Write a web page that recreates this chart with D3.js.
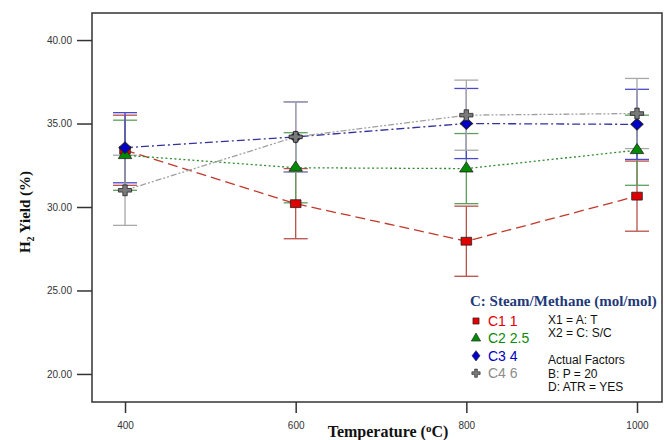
<!DOCTYPE html>
<html>
<head>
<meta charset="utf-8">
<script src="https://cdn.jsdelivr.net/npm/d3@7"></script>
<style>
  body { margin: 0; background: #fff; }
  svg { display: block; }
</style>
</head>
<body>
<div id="chart"></div>
<script>
// temperatures (x) and mean H2 yield per steam/methane level
var temps = [400, 600, 800, 1000];
var xTicks = [400, 600, 800, 1000];
var yTicks = [20, 25, 30, 35, 40];

var c1 = [33.4, 30.2, 27.95, 30.65];
var c2 = [33.1, 32.35, 32.3, 33.4];
var c3 = [33.55, 34.2, 35.0, 34.95];
var c4 = [31.0, 34.2, 35.5, 35.6];
// half width of LSD error bars
var lsd = [2.1, 2.1, 2.1, 2.1];

var seriesNames = ["C1 1", "C2 2.5", "C3 4", "C4 6"];
var notes = ["X1 = A: T", "X2 = C: S/C", "", "Actual Factors", "B: P = 20", "D: ATR = YES"];

var width = 665, height = 440;
var margin = {top: 13, right: 3, bottom: 38, left: 92};

var svg = d3.select("#chart").append("svg")
    .attr("width", width)
    .attr("height", height);

var x = d3.scaleLinear()
    .domain([361.3, 1029.3])
    .range([margin.left, width - margin.right]);

var y = d3.scaleLinear()
    .domain([18.32, 41.62])
    .range([height - margin.bottom, margin.top]);

var series = [
  {name: seriesNames[0], vals: c1, mark: "#e00000", line: "#c0392b", bar: "#b8504a", dash: "10,5", text: "#e00000", sym: d3.symbolSquare, size: 85, sx: 1.15, sy: 0.85},
  {name: seriesNames[1], vals: c2, mark: "#008a00", line: "#2f8a2f", bar: "#5e9e5e", dash: "2,2.5", text: "#0a8a0a", sym: d3.symbolTriangle, size: 65, sx: 1.1, sy: 0.95},
  {name: seriesNames[2], vals: c3, mark: "#0000c8", line: "#33339a", bar: "#4a4ac8", dash: "8,3,2,3", text: "#0000c0", sym: d3.symbolDiamond, size: 62, sx: 1.45, sy: 0.8},
  {name: seriesNames[3], vals: c4, mark: "#7a7a7a", line: "#a0a0a0", bar: "#a8a8a8", dash: "6,2,2,2,2,2", text: "#8c8c8c", sym: d3.symbolCross, size: 80, sx: 1.1, sy: 0.9}
];

// frame
svg.append("rect")
    .attr("x", margin.left)
    .attr("y", margin.top)
    .attr("width", width - margin.right - margin.left)
    .attr("height", height - margin.bottom - margin.top)
    .attr("fill", "none")
    .attr("stroke", "#333")
    .attr("stroke-width", 1.5);

// y axis
var yAxis = svg.append("g")
    .attr("transform", "translate(" + margin.left + ",0)")
    .call(d3.axisLeft(y).tickValues(yTicks).tickSize(15).tickPadding(5).tickFormat(d3.format(".2f")));
yAxis.select(".domain").remove();
yAxis.selectAll("line").attr("stroke", "#333").attr("stroke-width", 1.5);
yAxis.selectAll("text").attr("font-family", "Arial, 'Liberation Sans', sans-serif").attr("font-size", 10).attr("fill", "#333");

// x axis
var xAxis = svg.append("g")
    .attr("transform", "translate(0," + (height - margin.bottom) + ")")
    .call(d3.axisBottom(x).tickValues(xTicks).tickSize(11).tickPadding(9).tickFormat(d3.format("d")));
xAxis.select(".domain").remove();
xAxis.selectAll("line").attr("stroke", "#333").attr("stroke-width", 1.5);
xAxis.selectAll("text").attr("font-family", "Arial, 'Liberation Sans', sans-serif").attr("font-size", 10).attr("fill", "#333");

// axis titles
svg.append("text")
    .attr("x", 388)
    .attr("y", 437)
    .attr("text-anchor", "middle")
    .attr("font-family", "'Liberation Serif', 'Times New Roman', serif")
    .attr("font-weight", "bold")
    .attr("font-size", 16)
    .attr("fill", "#111")
    .html("Temperature (<tspan font-size='11' dy='-5'>o</tspan><tspan dy='5'>C)</tspan>");

var yt = svg.append("text")
    .attr("transform", "translate(30,212) rotate(-90)")
    .attr("text-anchor", "middle")
    .attr("font-family", "'Liberation Serif', 'Times New Roman', serif")
    .attr("font-weight", "bold")
    .attr("font-size", 15)
    .attr("fill", "#111");
yt.append("tspan").text("H");
yt.append("tspan").attr("font-size", 10).attr("dy", 4).text("2");
yt.append("tspan").attr("dy", -4).text(" Yield (%)");

var plot = svg.append("g");

// error bars
series.forEach(function(s) {
  var g = plot.append("g").attr("stroke", s.bar).attr("stroke-width", 1.3);
  s.vals.forEach(function(v, i) {
    var cx = x(temps[i]);
    g.append("line").attr("x1", cx).attr("x2", cx).attr("y1", y(v - lsd[i])).attr("y2", y(v + lsd[i]));
    g.append("line").attr("x1", cx - 12).attr("x2", cx + 12).attr("y1", y(v - lsd[i])).attr("y2", y(v - lsd[i]));
    g.append("line").attr("x1", cx - 12).attr("x2", cx + 12).attr("y1", y(v + lsd[i])).attr("y2", y(v + lsd[i]));
  });
});

// lines
var line = d3.line()
    .x(function(d, i) { return x(temps[i]); })
    .y(function(d) { return y(d); });

series.forEach(function(s) {
  plot.append("path")
      .datum(s.vals)
      .attr("d", line)
      .attr("fill", "none")
      .attr("stroke", s.line)
      .attr("stroke-width", 1.3)
      .attr("stroke-dasharray", s.dash);
});

// markers
series.forEach(function(s) {
  plot.selectAll(null)
      .data(s.vals)
      .enter().append("path")
      .attr("d", d3.symbol().type(s.sym).size(s.size))
      .attr("transform", function(d, i) { return "translate(" + x(temps[i]) + "," + y(d) + ") scale(" + s.sx + "," + s.sy + ")"; })
      .attr("fill", s.mark)
      .attr("stroke", "#222")
      .attr("stroke-width", 0.8);
});

// legend
var leg = svg.append("g");
leg.append("text")
    .attr("x", 470)
    .attr("y", 306)
    .attr("font-family", "'Liberation Serif', 'Times New Roman', serif")
    .attr("font-weight", "bold")
    .attr("font-size", 15)
    .attr("fill", "#1f3a78")
    .text("C: Steam/Methane (mol/mol)");

series.forEach(function(s, i) {
  var by = 326 + i * 17.4;
  leg.append("path")
      .attr("d", d3.symbol().type(s.sym).size(38))
      .attr("transform", "translate(476," + (by - 5) + ") scale(" + (s.sym === d3.symbolDiamond ? "1.2,0.9" : "1,1") + ")")
      .attr("fill", s.mark)
      .attr("stroke", "#222")
      .attr("stroke-width", 0.6);
  leg.append("text")
      .attr("x", 488)
      .attr("y", by)
      .attr("font-family", "Arial, 'Liberation Sans', sans-serif")
      .attr("font-size", 14)
      .attr("fill", s.text)
      .text(s.name);
});

var noteY = [324, 337, 0, 364, 377.5, 391];
notes.forEach(function(t, i) {
  if (!t) return;
  leg.append("text")
      .attr("x", 548)
      .attr("y", noteY[i])
      .attr("font-family", "Arial, 'Liberation Sans', sans-serif")
      .attr("font-size", 12)
      .attr("fill", "#111")
      .text(t);
});
</script>
</body>
</html>
